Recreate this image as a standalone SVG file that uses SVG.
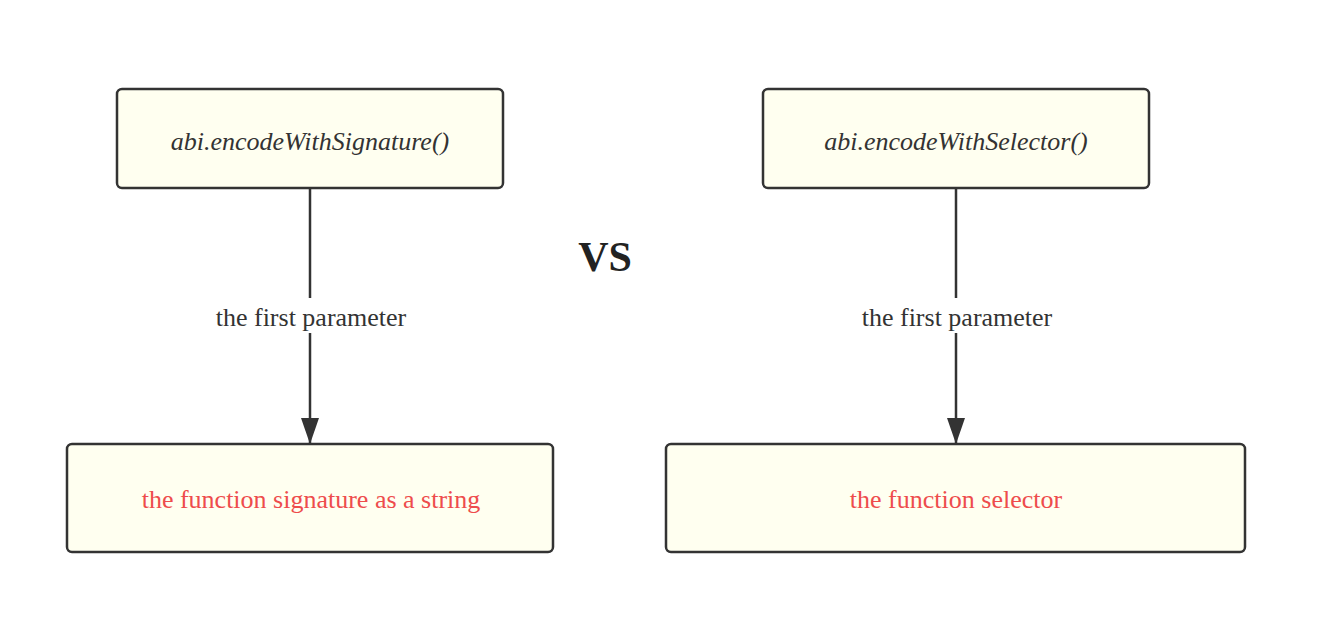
<svg xmlns="http://www.w3.org/2000/svg" width="1327" height="628" viewBox="0 0 1327 628">
<style>
.box{fill:#fffff0;stroke:#333;stroke-width:2.5}
.t{font-family:"Liberation Serif",serif;font-size:26px;text-anchor:middle;dominant-baseline:central}
.it{font-style:italic;fill:#333}
.red{fill:#ee4c4c}
.lbl{fill:#333}
.edge{stroke:#333;stroke-width:2.5;fill:none}
</style>
<defs>
<marker id="arr" markerWidth="26" markerHeight="18" refX="26" refY="9" orient="auto" markerUnits="userSpaceOnUse" viewBox="0 0 26 18">
<path d="M0,0 L26,9 L0,18 z" fill="#333"/>
</marker>
</defs>
<rect width="1327" height="628" fill="#fff"/>
<g id="connectors">
<line class="edge" x1="310" y1="189" x2="310" y2="298"/>
<line class="edge" x1="310" y1="333" x2="310" y2="444" marker-end="url(#arr)"/>
<line class="edge" x1="956" y1="189" x2="956" y2="298"/>
<line class="edge" x1="956" y1="333" x2="956" y2="444" marker-end="url(#arr)"/>
<text class="t lbl" x="311" y="317">the first parameter</text>
<text class="t lbl" x="957" y="317">the first parameter</text>
</g>
<g id="n1"><rect class="box" x="117" y="89" width="386" height="99" rx="5"/><text class="t it" x="310" y="141">abi.encodeWithSignature()</text></g>
<g id="n2"><rect class="box" x="67" y="444" width="486" height="108" rx="5"/><text class="t red" x="311" y="499">the function signature as a string</text></g>
<g id="n3"><rect class="box" x="763" y="89" width="386" height="99" rx="5"/><text class="t it" x="956" y="141">abi.encodeWithSelector()</text></g>
<g id="n4"><rect class="box" x="666" y="444" width="579" height="108" rx="5"/><text class="t red" x="956" y="499">the function selector</text></g>
<g id="vs"><text x="605" y="257" style="font-family:'Liberation Serif',serif;font-size:42px;font-weight:bold;fill:#222;text-anchor:middle;dominant-baseline:central">VS</text></g>
</svg>
